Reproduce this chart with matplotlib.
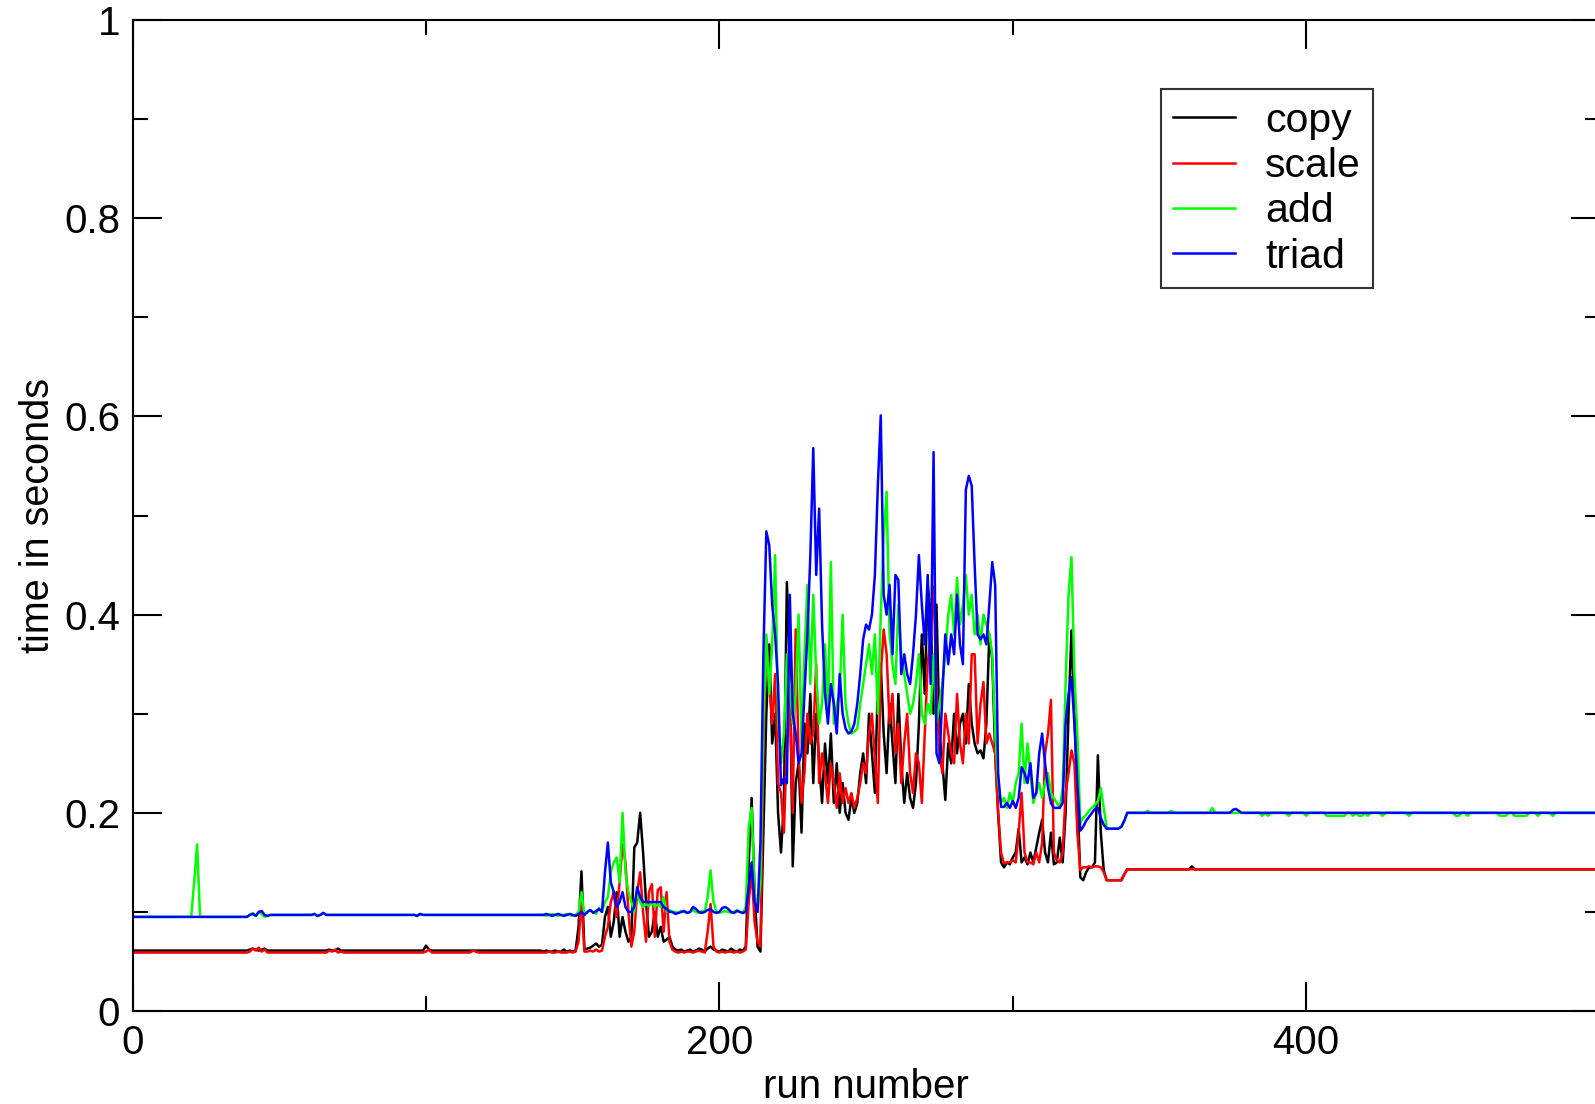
import numpy as np
import matplotlib
matplotlib.use("Agg")
import matplotlib.pyplot as plt
from matplotlib.ticker import MultipleLocator

# stream benchmark timings, in milliseconds
# runs 0-139: quiet phase
copy_early = [61]*40 + [62, 63, 62, 61, 62, 63, 61] + [61]*20 + [62, 61, 61, 63, 61] + [61]*28 + [66, 62] + [61]*38
scale_early = [59]*40 + [60, 63, 61, 64, 60, 62, 59] + [59]*20 + [61, 60, 62, 59, 60] + [59]*28 + [60, 62] + [59]*14 + [61, 60] + [59]*22
add_early = [95]*21 + [130, 168] + [95]*17 + [97, 99, 96, 100, 98, 95, 96] + [97]*15 + [98, 96, 97, 99, 97] + [97]*30 + [96, 98, 97] + [97]*40
triad_early = [95]*40 + [97, 98, 96, 100, 101, 97, 96] + [97]*15 + [98, 96, 97, 99, 97] + [97]*30 + [96, 98, 97] + [97]*40

# runs 140-339: busy phase
copy_mid = [
    60, 61, 60, 60, 61, 60, 60, 62, 60, 61,
    60, 61, 85, 141, 62, 63, 64, 66, 68, 65,
    67, 95, 105, 75, 90, 120, 75, 95, 80, 70,
    75, 165, 170, 200, 160, 110, 75, 80, 100, 75,
    85, 70, 72, 75, 65, 62, 61, 62, 60, 61,
    62, 60, 61, 63, 62, 60, 63, 65, 62, 61,
    60, 62, 61, 60, 63, 61, 60, 62, 61, 65,
    150, 215, 120, 65, 60, 180, 300, 370, 270, 300,
    200, 160, 210, 433, 350, 146, 230, 250, 180, 290,
    260, 320, 230, 300, 250, 210, 270, 230, 280, 210,
    250, 200, 230, 200, 193, 215, 200, 210, 240, 260,
    230, 300, 260, 220, 330, 350, 280, 240, 310, 270,
    230, 320, 250, 210, 240, 215, 205, 230, 290, 380,
    320, 430, 400, 300, 410, 280, 250, 213, 270, 250,
    300, 260, 290, 300, 270, 330, 290, 270, 260, 263,
    255, 290, 380, 355, 260, 200, 150, 145, 150, 148,
    155, 160, 184, 150, 155, 148, 160, 150, 165, 180,
    193, 160, 150, 180, 148, 150, 175, 150, 200, 300,
    384, 300, 220, 135, 132, 140, 145, 145, 150, 258,
    180, 142, 132, 132, 132, 132, 132, 132, 138, 143,
]
scale_mid = [
    59, 59, 60, 59, 59, 60, 59, 59, 59, 60,
    59, 60, 70, 112, 60, 60, 61, 60, 62, 60,
    61, 75, 85, 110, 120, 95, 130, 168, 150, 100,
    65, 80, 120, 140, 100, 70, 120, 128, 75, 122,
    125, 80, 120, 70, 62, 60, 59, 60, 59, 60,
    60, 59, 60, 61, 60, 59, 80, 108, 65, 60,
    59, 60, 59, 60, 60, 59, 60, 59, 60, 62,
    110, 142, 90, 70, 65, 260, 375, 330, 290, 340,
    230, 220, 180, 270, 320, 200, 385, 260, 210, 240,
    300, 270, 280, 350, 230, 260, 240, 210, 250, 230,
    205, 240, 210, 225, 210, 220, 205, 215, 230, 250,
    240, 280, 300, 255, 210, 340, 385, 360, 290, 320,
    260, 290, 230, 270, 300, 240, 220, 260, 250, 210,
    280, 350, 380, 428, 330, 260, 240, 300, 280, 260,
    250, 320, 270, 250, 300, 270, 360, 360, 270, 310,
    332, 270, 280, 270, 260, 200, 160, 149, 150, 150,
    152, 150, 180, 220, 160, 150, 150, 148, 160, 150,
    170, 260, 280, 314, 160, 152, 150, 160, 220, 240,
    263, 250, 180, 142, 145, 145, 146, 145, 146, 146,
    145, 140, 132, 132, 132, 132, 132, 132, 138, 143,
]
add_mid = [
    97, 96, 97, 98, 97, 96, 97, 97, 98, 97,
    96, 97, 100, 120, 97, 100, 102, 100, 98, 104,
    100, 110, 115, 140, 150, 155, 130, 200, 140, 120,
    110, 100, 120, 110, 105, 108, 106, 110, 105, 108,
    105, 115, 100, 102, 100, 100, 99, 101, 100, 99,
    100, 102, 100, 99, 101, 100, 115, 142, 110, 100,
    99, 100, 101, 100, 99, 100, 102, 100, 99, 105,
    185, 205, 120, 100, 130, 290, 380, 320, 370, 460,
    300, 250, 280, 360, 330, 290, 320, 400, 270, 360,
    430, 330, 420, 340, 290, 310, 370, 300, 453, 290,
    310, 320, 400, 310, 290, 280, 282, 285, 310, 330,
    350, 370, 340, 380, 300, 400, 480, 524, 380, 350,
    330, 410, 360, 340, 320, 300, 310, 330, 360, 300,
    290, 310, 300, 360, 290, 310, 330, 360, 400, 420,
    380, 437, 390, 410, 440, 400, 420, 380, 400, 370,
    400, 390, 380, 360, 280, 230, 210, 215, 205, 220,
    210, 230, 240, 290, 230, 270, 240, 210, 220, 230,
    215, 230, 240, 220, 215, 210, 205, 225, 330, 420,
    458, 340, 280, 190, 195, 198, 202, 205, 208, 212,
    225, 205, 185, 184, 184, 184, 184, 186, 192, 200,
]
triad_mid = [
    97, 98, 97, 96, 97, 98, 97, 96, 97, 98,
    97, 96, 98, 100, 97, 100, 102, 99, 101, 103,
    100, 140, 170, 130, 120, 105, 110, 120, 105, 100,
    100, 105, 125, 115, 110, 110, 110, 110, 110, 110,
    110, 105, 103, 100, 100, 98, 99, 100, 101, 99,
    100, 105, 103, 100, 99, 100, 102, 103, 100, 99,
    100, 104, 105, 103, 100, 99, 101, 100, 99, 100,
    125, 150, 110, 100, 170, 360, 484, 470, 410, 380,
    330, 228, 235, 230, 420, 300, 280, 250, 260, 320,
    380, 460, 568, 440, 507, 390, 320, 290, 330, 310,
    280, 340, 300, 285, 280, 282, 290, 310, 340, 375,
    390, 385, 400, 440, 530, 601, 420, 400, 430, 360,
    440, 435, 340, 360, 340, 330, 360, 400, 460, 410,
    370, 440, 330, 564, 260, 250, 320, 380, 350, 380,
    360, 420, 370, 350, 526, 540, 530, 450, 380, 375,
    380, 370, 410, 453, 430, 240, 206, 206, 210, 205,
    212, 205, 215, 246, 240, 230, 250, 215, 220, 260,
    280, 250, 225, 210, 205, 205, 205, 210, 290, 320,
    337, 290, 230, 182, 186, 192, 196, 200, 204, 205,
    195, 188, 184, 184, 184, 184, 184, 186, 192, 200,
]

# runs 340-499: settled phase
copy_late = [143]*21 + [146] + [143]*138
scale_late = [143]*160
add_late = ([200]*6 + [202] + [200]*7 + [202] + [200]*13 + [205] + [200]*16 + [197, 200, 197]
            + [200]*6 + [197] + [200]*5 + [197] + [200]*6 + [197]*7 + [200]*2
            + [197, 200, 197, 197, 200, 197] + [200]*4 + [197] + [200]*8 + [197] + [200]*15
            + [197]*2 + [200]*2 + [197] + [200]*10 + [197]*3 + [200]*2 + [197]*5 + [200]*3
            + [197] + [200]*4 + [197] + [200]*15)
triad_late = [200]*35 + [203, 204, 202] + [200]*122

labels = ["copy", "scale", "add", "triad"]
colors = ["black", "red", "#00ff00", "blue"]

series = [
    copy_early + copy_mid + copy_late,
    scale_early + scale_mid + scale_late,
    add_early + add_mid + add_late,
    triad_early + triad_mid + triad_late,
]

plt.rcParams['font.family'] = ['Liberation Sans', 'DejaVu Sans']

fig = plt.figure(figsize=(15.95, 11.04), dpi=100)
ax = fig.add_axes([0.0831, 0.0842, 0.9198, 0.8977])

runs = np.arange(len(series[0]))
for vals, lab, col in zip(series, labels, colors):
    ax.plot(runs, np.array(vals) / 1000.0, color=col, lw=1.8, label=lab)

ax.set_xlim(0, 500)
ax.set_ylim(0, 1)
ax.xaxis.set_major_locator(MultipleLocator(200))
ax.xaxis.set_minor_locator(MultipleLocator(100))
ax.yaxis.set_minor_locator(MultipleLocator(0.1))
ax.set_yticks(np.arange(0, 1.01, 0.2))
ax.set_yticklabels(["0", "0.2", "0.4", "0.6", "0.8", "1"])

ax.tick_params(which='both', direction='in', top=True, right=True, width=1.5, labelsize=29, pad=9)
ax.tick_params(which='major', length=21)
ax.tick_params(which='minor', length=11)
for sp in ax.spines.values():
    sp.set_linewidth(1.5)

ax.set_xlabel("run number", fontsize=29, labelpad=5)
ax.set_ylabel("time in seconds", fontsize=28.5, labelpad=5)

leg = ax.legend(loc='upper left', bbox_to_anchor=(0.701, 0.930), borderaxespad=0,
                fontsize=29.5, frameon=True, fancybox=False, handlelength=1.5,
                handletextpad=0.74, labelspacing=0.18, borderpad=0.3)
leg.get_frame().set_edgecolor('black')
leg.get_frame().set_linewidth(1.5)
for l in leg.get_lines():
    l.set_linewidth(1.8)

fig.savefig("out.png", dpi=100)
